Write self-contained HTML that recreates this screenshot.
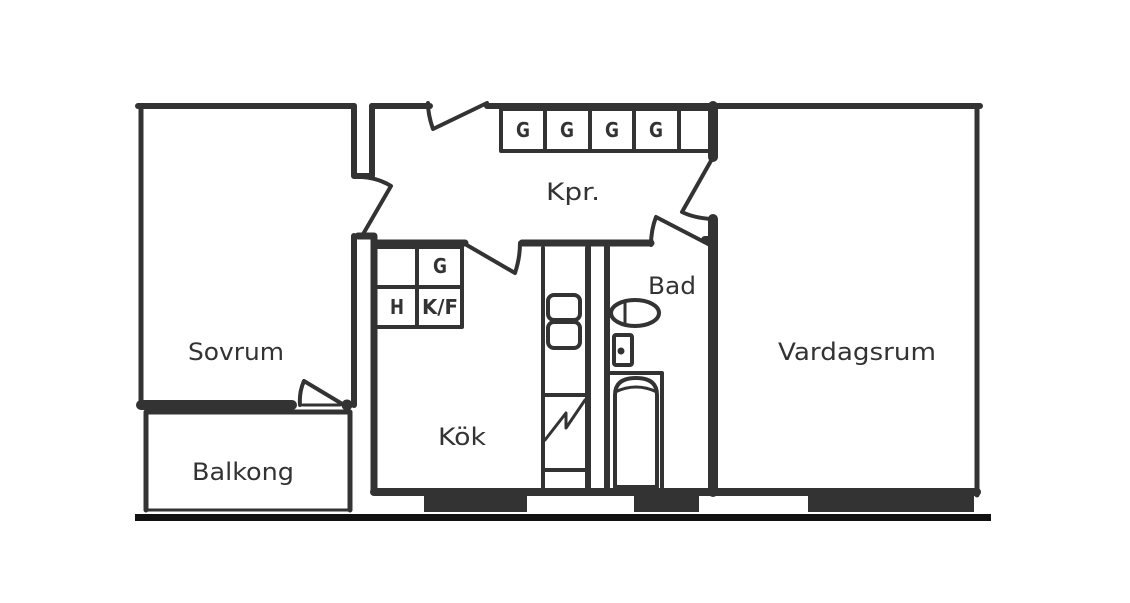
<!DOCTYPE html>
<html><head><style>html,body{margin:0;padding:0;background:#fff}svg{display:block}</style></head><body>
<svg width="1130" height="603" viewBox="0 0 1130 603" xmlns="http://www.w3.org/2000/svg">
<g stroke="#333" fill="none" stroke-linecap="round" stroke-linejoin="round">
<!-- top walls -->
<path d="M138 106 H354" stroke-width="6"/>
<path d="M372 106 H430" stroke-width="6"/>
<path d="M487 106 H980" stroke-width="6"/>
<!-- Sovrum left -->
<path d="M141 106 V405" stroke-width="5"/>
<!-- stub -->
<path d="M354 106 V176 H372 V106" stroke-width="6"/>
<!-- sovrum right wall -->
<path d="M354 236 V405" stroke-width="6"/>
<path d="M358 236 H374 V492" stroke-width="7"/>
<!-- door sovrum-kpr -->
<path d="M362 236 L391 186 Q378 178 362 177" stroke-width="4"/>
<!-- top door -->
<path d="M487 103 L433 129 Q428 115 428 103" stroke-width="4"/>
<!-- G boxes -->
<path d="M501 109 H710 M501 109 V151 H710 M545 109 V151 M590 109 V151 M634 109 V151 M679 109 V151" stroke-width="4"/>
<path d="M713 106 V157" stroke-width="10"/>
<!-- right door Kpr-Vardagsrum -->
<path d="M712 159 L682 212 Q694 218 712 219" stroke-width="4"/>
<path d="M713 219 V492" stroke-width="10"/>
<!-- bad door -->
<path d="M710 245 L656 217 Q651 230 651 245" stroke-width="4"/>
<!-- kok top wall -->
<path d="M374 243 H465" stroke-width="7"/>
<path d="M465 244 L515 273 Q520 258 520 243" stroke-width="4"/>
<path d="M522 243 H651" stroke-width="7"/>
<path d="M705 240 H714" stroke-width="8"/>
<!-- kitchen fixtures -->
<path d="M378 247 H462 V327 H378 M417 247 V327 M378 287 H462" stroke-width="4"/>
<!-- counter -->
<path d="M543 248 V492 M587 248 V492 M543 395 H587 M543 470 H587" stroke-width="4"/>
<path d="M589 247 V492" stroke-width="4"/>
<path d="M607 247 V492" stroke-width="6"/>
<rect x="548" y="295" width="32" height="25" rx="6" stroke-width="4"/>
<rect x="548" y="322" width="32" height="26" rx="6" stroke-width="4"/>
<path d="M545 440 L566 413 L566 428 L585 400" stroke-width="3"/>
<!-- bath -->
<ellipse cx="635" cy="313" rx="24" ry="13" stroke-width="4"/>
<path d="M625 301 V325" stroke-width="3"/>
<rect x="614" y="335" width="18" height="30" rx="2" stroke-width="4"/>
<circle cx="621" cy="351" r="3" fill="#333"/>
<path d="M610 373 H662 V492" stroke-width="4"/>
<path d="M615 487 V395 Q615 378 636 378 Q657 378 657 395 V487 Z" stroke-width="4"/>
<path d="M615 392 Q636 382 657 392" stroke-width="3"/>
<!-- vardagsrum right -->
<path d="M977 106 V495" stroke-width="5"/>
<!-- bottom walls -->
<path d="M374 492 H977" stroke-width="8"/>
<!-- sovrum bottom -->
<path d="M141 405 H292" stroke-width="10"/>
<path d="M303 405 H340" stroke-width="3"/>
<path d="M344 405 L304 381 Q299 392 300 405" stroke-width="4"/>
<circle cx="347" cy="405" r="5" fill="#333"/>
<!-- balkong -->
<path d="M146 510 V412 H350 V510" stroke-width="5"/>
<path d="M146 510 H350" stroke-width="3"/>
</g>
<!-- windows -->
<g fill="#333">
<rect x="424" y="494" width="103" height="18"/>
<rect x="634" y="494" width="65" height="18"/>
<rect x="808" y="494" width="166" height="18"/>
<rect x="135" y="514" width="856" height="7" fill="#111"/>
</g>
<g fill="#fff"><rect x="530" y="498" width="100" height="12"/><rect x="702" y="498" width="104" height="12"/></g>
<g font-family="'DejaVu Sans', sans-serif" font-size="24" fill="#333" text-anchor="middle" dominant-baseline="central">
<text x="573" y="192" textLength="54" lengthAdjust="spacingAndGlyphs">Kpr.</text>
<text x="236" y="352" textLength="96" lengthAdjust="spacingAndGlyphs">Sovrum</text>
<text x="672" y="286" textLength="48" lengthAdjust="spacingAndGlyphs">Bad</text>
<text x="462" y="437" textLength="48" lengthAdjust="spacingAndGlyphs">Kök</text>
<text x="243" y="472" textLength="102" lengthAdjust="spacingAndGlyphs">Balkong</text>
<text x="857" y="352" textLength="158" lengthAdjust="spacingAndGlyphs">Vardagsrum</text>
</g>
<g font-family="'DejaVu Sans', sans-serif" font-size="20" font-weight="bold" fill="#333" text-anchor="middle" dominant-baseline="central">
<text x="523" y="130" textLength="14" lengthAdjust="spacingAndGlyphs">G</text>
<text x="567" y="130" textLength="14" lengthAdjust="spacingAndGlyphs">G</text>
<text x="612" y="130" textLength="14" lengthAdjust="spacingAndGlyphs">G</text>
<text x="656" y="130" textLength="14" lengthAdjust="spacingAndGlyphs">G</text>
<text x="440" y="266" textLength="14" lengthAdjust="spacingAndGlyphs">G</text>
<text x="397" y="307" textLength="14" lengthAdjust="spacingAndGlyphs">H</text>
<text x="440" y="307" textLength="36" lengthAdjust="spacingAndGlyphs">K/F</text>
</g>
</svg>
</body></html>
